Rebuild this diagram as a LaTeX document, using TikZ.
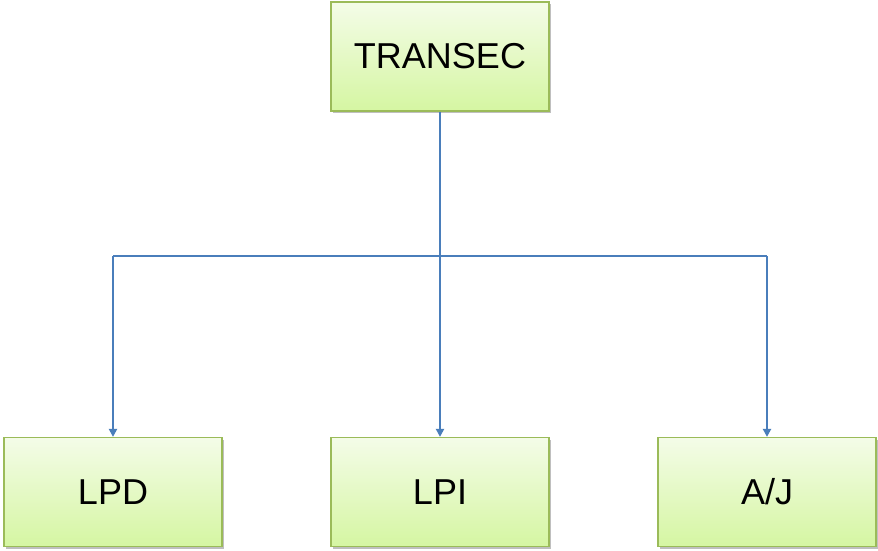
\documentclass[tikz,border=0pt]{standalone}
\usepackage{fontspec}
\setmainfont{Liberation Sans}
\usetikzlibrary{arrows.meta,shadows}
\definecolor{boxtop}{HTML}{F4FCE8}
\definecolor{boxbot}{HTML}{D5F6A2}
\definecolor{boxedge}{HTML}{9BBB59}
\definecolor{linkblue}{HTML}{4A7EBB}
\tikzset{
  unitbox/.style={draw=boxedge, line width=1.2pt, top color=boxtop, bottom color=boxbot,
    minimum width=218pt, minimum height=109pt, inner sep=0pt,
    font=\fontsize{36}{42}\selectfont,
    drop shadow={shadow xshift=2pt, shadow yshift=-2pt, fill=black, opacity=0.25}},
  link/.style={draw=linkblue, line width=2.6pt},
  linkarrow/.style={link, -{Triangle[length=8pt,width=8pt]}}
}
\begin{document}
\begin{tikzpicture}[x=1pt,y=-1pt]
\useasboundingbox (0,0) rectangle (878,550);
\node[unitbox] (top) at (440,56.5) {TRANSEC};
\node[unitbox] (lpd) at (113,492) {LPD};
\node[unitbox] (lpi) at (440,492) {LPI};
\node[unitbox] (aj) at (767,492) {A/J};
\coordinate (hub) at (440,256);
\coordinate (left) at (113,256);
\coordinate (right) at (767,256);
\draw[link] (top.south) -- (hub);
\draw[link] (left) -- (right);
\draw[linkarrow] (left) -- (lpd.north);
\draw[linkarrow] (hub) -- (lpi.north);
\draw[linkarrow] (right) -- (aj.north);
\end{tikzpicture}
\end{document}
